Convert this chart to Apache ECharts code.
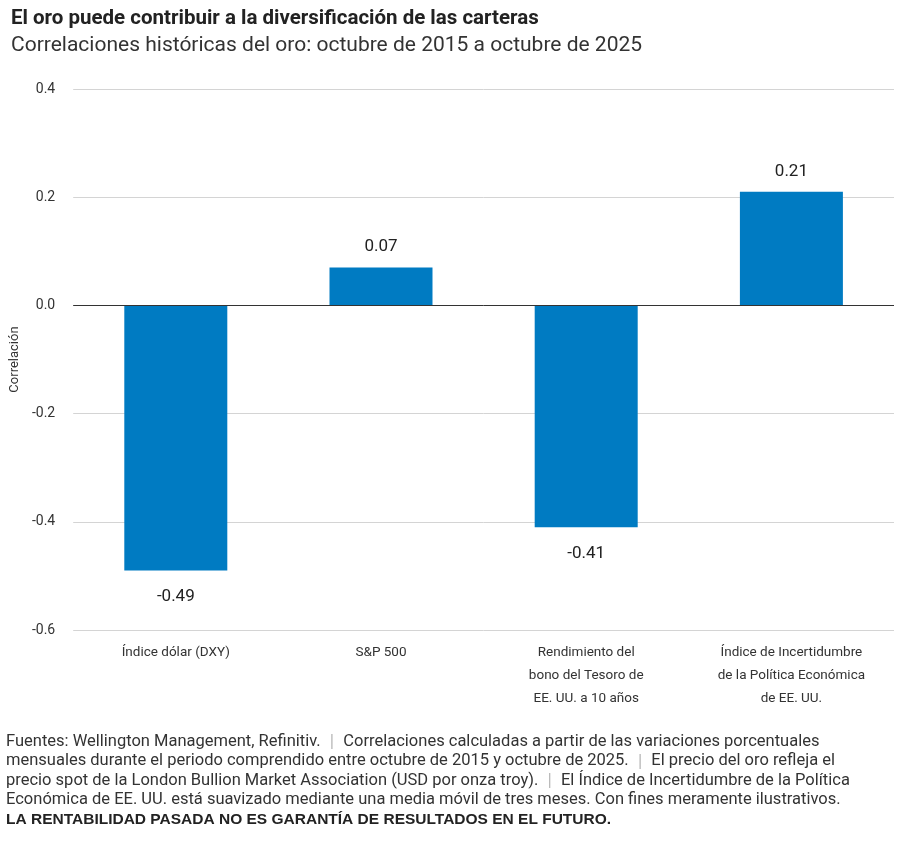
<!DOCTYPE html>
<html>
<head>
<meta charset="utf-8">
<script src="https://cdn.jsdelivr.net/npm/echarts@6/dist/echarts.min.js"></script>
<style>html,body{margin:0;padding:0;background:#fff}#chart{width:901px;height:841px}</style>
</head>
<body>
<div id="chart"></div>
<script>
const categories = ['Índice dólar (DXY)', 'S&P 500', 'Rendimiento del\nbono del Tesoro de\nEE. UU. a 10 años', 'Índice de Incertidumbre\nde la Política Económica\nde EE. UU.'];
const values = [-0.49, 0.07, -0.41, 0.21];
const yTicks = [-0.6, -0.4, -0.2, 0.0, 0.2, 0.4];

const font = 'Roboto, "Noto Sans", sans-serif';
const chart = echarts.init(document.getElementById('chart'));
const sep = '{s|  |  }';
chart.setOption({
    animation: false,
    textStyle: {fontFamily: font},
    title: [{
        text: 'El oro puede contribuir a la diversificación de las carteras',
        left: 6, top: 3,
        textStyle: {fontSize: 20.5, fontWeight: 'bold', color: '#222', fontFamily: font}
    }, {
        text: 'Correlaciones históricas del oro: octubre de 2015 a octubre de 2025',
        left: 6, top: 30,
        textStyle: {fontSize: 21, fontWeight: 'normal', color: '#333', fontFamily: font}
    }],
    grid: {left: 72, right: 7, top: 89, bottom: 211},
    xAxis: {
        type: 'category',
        data: categories,
        axisLine: {show: false},
        axisTick: {show: false},
        axisLabel: {color: '#333', fontSize: 13.5, lineHeight: 23, margin: 11, interval: 0}
    },
    yAxis: {
        type: 'value',
        min: -0.6, max: 0.4, interval: 0.2,
        name: 'Correlación',
        nameLocation: 'middle',
        nameGap: 52,
        nameTextStyle: {fontSize: 13, color: '#333'},
        axisLabel: {color: '#333', fontSize: 14, margin: 18,
            formatter: v => yTicks.includes(Math.round(v * 10) / 10) ? v.toFixed(1) : ''},
        splitLine: {lineStyle: {color: '#d4d4d4'}}
    },
    series: [{
        type: 'bar',
        data: values.map(v => ({value: v, label: {distance: v < 0 ? 18 : 12}})),
        barWidth: 103,
        itemStyle: {color: '#007bc2'},
        label: {show: true, position: 'outside', fontSize: 17, color: '#222',
            formatter: p => p.value.toFixed(2)},
        markLine: {
            symbol: 'none', silent: true, label: {show: false},
            lineStyle: {color: '#333', type: 'solid', width: 1},
            data: [{yAxis: 0}]
        }
    }],
    graphic: [{
        type: 'text', left: 6, top: 732,
        style: {
            text: 'Fuentes: Wellington Management, Refinitiv.' + sep + 'Correlaciones calculadas a partir de las variaciones porcentuales\nmensuales durante el periodo comprendido entre octubre de 2015 y octubre de 2025.' + sep + 'El precio del oro refleja el\nprecio spot de la London Bullion Market Association (USD por onza troy).' + sep + 'El Índice de Incertidumbre de la Política\nEconómica de EE. UU. está suavizado mediante una media móvil de tres meses. Con fines meramente ilustrativos.\n{b|LA RENTABILIDAD PASADA NO ES GARANTÍA DE RESULTADOS EN EL FUTURO.}',
            fontSize: 16.5, lineHeight: 19.5, fill: '#333', fontFamily: font,
            rich: {
                s: {fill: '#bbb', fontSize: 16.5},
                b: {fontWeight: 'bold', fill: '#222', fontSize: 15.5}
            }
        }
    }]
});
</script>
</body>
</html>
